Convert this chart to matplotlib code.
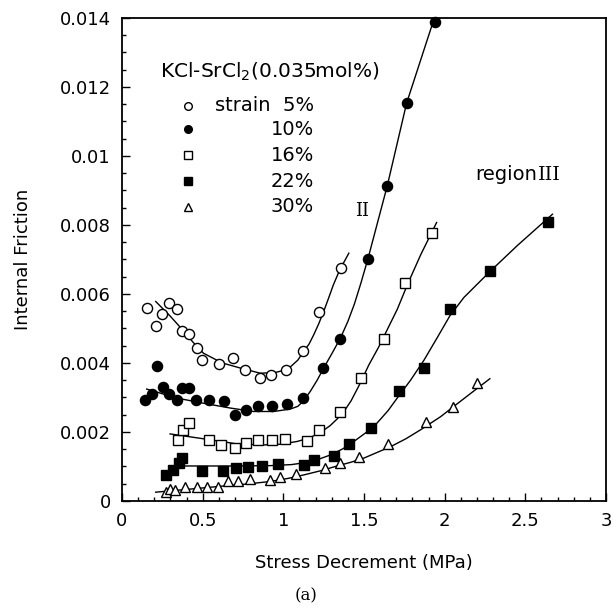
import numpy as np
import matplotlib.pyplot as plt
from matplotlib.ticker import MultipleLocator

# measured points, stress decrement (MPa) vs internal friction
x5 = [0.153, 0.209, 0.247, 0.292, 0.342, 0.375, 0.416, 0.464, 0.497, 0.600,
      0.688, 0.760, 0.853, 0.925, 1.019, 1.122, 1.224, 1.358]
y5 = [0.00560, 0.00508, 0.00542, 0.00574, 0.00556, 0.00491, 0.00483, 0.00444,
      0.00409, 0.00396, 0.00414, 0.00380, 0.00357, 0.00366, 0.00380, 0.00435,
      0.00547, 0.00675]

x10 = [0.143, 0.184, 0.219, 0.253, 0.294, 0.344, 0.375, 0.416, 0.458, 0.542,
       0.632, 0.698, 0.768, 0.840, 0.930, 1.023, 1.122, 1.244, 1.354, 1.524,
       1.644, 1.764, 1.938]
y10 = [0.00293, 0.00310, 0.00391, 0.00330, 0.00310, 0.00293, 0.00327, 0.00327,
       0.00293, 0.00293, 0.00288, 0.00249, 0.00264, 0.00276, 0.00276, 0.00280,
       0.00298, 0.00384, 0.00470, 0.00701, 0.00913, 0.01153, 0.01388]

x16 = [0.350, 0.377, 0.416, 0.542, 0.613, 0.698, 0.768, 0.843, 0.930, 1.012,
       1.149, 1.224, 1.354, 1.484, 1.623, 1.752, 1.923]
y16 = [0.00177, 0.00206, 0.00225, 0.00175, 0.00162, 0.00153, 0.00167, 0.00177,
       0.00177, 0.00180, 0.00174, 0.00206, 0.00257, 0.00355, 0.00470, 0.00633,
       0.00776]

x22 = [0.271, 0.319, 0.354, 0.371, 0.497, 0.625, 0.707, 0.784, 0.869, 0.964,
       1.131, 1.188, 1.311, 1.406, 1.542, 1.720, 1.872, 2.033, 2.281, 2.638]
y22 = [0.00075, 0.00090, 0.00111, 0.00124, 0.00085, 0.00085, 0.00095, 0.00098,
       0.00101, 0.00106, 0.00105, 0.00119, 0.00131, 0.00166, 0.00210, 0.00318,
       0.00386, 0.00555, 0.00667, 0.00808]

x30 = [0.274, 0.298, 0.329, 0.393, 0.462, 0.526, 0.598, 0.655, 0.717, 0.795,
       0.917, 0.979, 1.081, 1.257, 1.350, 1.468, 1.650, 1.882, 2.052, 2.203]
y30 = [0.00025, 0.00034, 0.00030, 0.00040, 0.00040, 0.00040, 0.00040, 0.00056,
       0.00058, 0.00062, 0.00060, 0.00069, 0.00078, 0.00095, 0.00111, 0.00128,
       0.00164, 0.00228, 0.00272, 0.00343]

# fitted curves through each set
fx5 = [0.209, 0.30, 0.375, 0.44, 0.505, 0.62, 0.733, 0.857, 0.95, 1.00, 1.043,
       1.09, 1.126, 1.16, 1.188, 1.22, 1.250, 1.28, 1.31, 1.35, 1.406]
fy5 = [0.00578, 0.00535, 0.00496, 0.00460, 0.00428, 0.00400, 0.00385, 0.00370,
       0.00372, 0.00378, 0.00388, 0.00408, 0.00433, 0.00455, 0.00481, 0.00514,
       0.00549, 0.00587, 0.00626, 0.00670, 0.00718]
fx10 = [0.153, 0.339, 0.505, 0.671, 0.816, 0.940, 1.043, 1.09, 1.126, 1.168,
        1.21, 1.250, 1.30, 1.354, 1.40, 1.44, 1.48, 1.524, 1.644, 1.764, 1.95]
fy10 = [0.00324, 0.00298, 0.00283, 0.00269, 0.00259, 0.00259, 0.00266, 0.00274,
        0.00290, 0.00318, 0.00350, 0.00385, 0.00426, 0.00472, 0.00520, 0.00570,
        0.00630, 0.00701, 0.00913, 0.01153, 0.0142]
fx16 = [0.298, 0.547, 0.712, 0.878, 0.98, 1.085, 1.16, 1.230, 1.29, 1.333,
        1.38, 1.42, 1.47, 1.53, 1.59, 1.65, 1.706, 1.772, 1.851, 1.950]
fy16 = [0.00194, 0.00177, 0.00165, 0.00162, 0.00164, 0.00172, 0.00182, 0.00198,
        0.00218, 0.00237, 0.00262, 0.00290, 0.00335, 0.00394, 0.00445, 0.00502,
        0.00555, 0.00630, 0.00713, 0.00807]
fx22 = [0.39, 0.70, 0.919, 1.05, 1.126, 1.21, 1.292, 1.37, 1.437, 1.51, 1.582,
        1.65, 1.706, 1.789, 1.872, 1.95, 2.033, 2.12, 2.281, 2.45, 2.668]
fy22 = [0.00101, 0.00101, 0.00102, 0.00105, 0.00110, 0.00119, 0.00133, 0.00151,
        0.00172, 0.00197, 0.00226, 0.00262, 0.00298, 0.00350, 0.00408, 0.00470,
        0.00537, 0.00590, 0.00665, 0.00740, 0.00831]
fx30 = [0.209, 0.40, 0.609, 0.78, 0.919, 1.03, 1.126, 1.23, 1.333, 1.42, 1.5,
        1.58, 1.665, 1.76, 1.851, 1.975, 2.052, 2.16, 2.280]
fy30 = [0.00025, 0.00033, 0.00042, 0.00049, 0.00056, 0.00065, 0.00075, 0.00087,
        0.00101, 0.00112, 0.00124, 0.00140, 0.00157, 0.00180, 0.00206, 0.00244,
        0.00272, 0.00311, 0.00354]

labels = ['strain  5%', '10%', '16%', '22%', '30%']
markers = ['o', 'o', 's', 's', '^']
faces = ['white', 'black', 'white', 'black', 'white']

plt.rcParams['font.family'] = ['DejaVu Sans']

fig = plt.figure(figsize=(6.13, 6.10), dpi=100)
ax = fig.add_axes([0.199, 0.179, 0.7896, 0.7915])

data = [(x5, y5, fx5, fy5), (x10, y10, fx10, fy10), (x16, y16, fx16, fy16),
        (x22, y22, fx22, fy22), (x30, y30, fx30, fy30)]
for i, (x, y, fx, fy) in enumerate(data):
    ax.plot(fx, fy, '-', color='black', lw=1.0, zorder=2)
    ms = 7.5 if markers[i] == 's' else 7.3
    if markers[i] == '^':
        ms = 6.8
    ax.plot(x, y, markers[i], ms=ms, mfc=faces[i], mec='black', mew=1.0,
            linestyle='none', zorder=3, clip_on=False)

ax.set_xlim(0, 3)
ax.set_ylim(0, 0.014)
ax.xaxis.set_minor_locator(MultipleLocator(0.1))
ax.yaxis.set_minor_locator(MultipleLocator(0.0005))
ax.set_xticks([0, 0.5, 1, 1.5, 2, 2.5, 3])
ax.set_xticklabels(['0', '0.5', '1', '1.5', '2', '2.5', '3'])
ax.set_yticks([0, 0.002, 0.004, 0.006, 0.008, 0.01, 0.012, 0.014])
ax.set_yticklabels(['0', '0.002', '0.004', '0.006', '0.008', '0.01', '0.012', '0.014'])
ax.tick_params(which='both', direction='in', top=False, right=False,
               labelsize=13, width=1.0)
ax.tick_params(which='major', length=6, pad=8)
ax.tick_params(which='minor', length=3)
for s in ax.spines.values():
    s.set_linewidth(1.3)

ax.set_xlabel('Stress Decrement (MPa)', fontsize=13, labelpad=17)
ax.set_ylabel('Internal Friction', fontsize=13, labelpad=20)

# legend block drawn by hand
ax.text(0.078, 0.888, r'KCl-SrCl$_2$(0.035mol%)', transform=ax.transAxes,
        fontsize=14.5, va='center', ha='left')
rows = [0.818, 0.770, 0.716, 0.662, 0.609]
for i, r in enumerate(rows):
    ax.plot([0.136], [r], markers[i], ms=5.5, mfc=faces[i], mec='black',
            mew=1.0, transform=ax.transAxes)
    ax.text(0.397, r, labels[i], transform=ax.transAxes, fontsize=14,
            va='center', ha='right')

ax.text(1.49, 0.0084, 'II', fontsize=13, family='DejaVu Serif', ha='center', va='center')
ax.text(2.19, 0.00945, 'region', fontsize=14, ha='left', va='center')
ax.text(2.65, 0.00945, 'III', fontsize=14, family='DejaVu Serif', ha='center', va='center')

fig.text(0.499, 0.023, '(a)', fontsize=12, family='DejaVu Serif', ha='center', va='center')

fig.savefig('out.png', dpi=100)
